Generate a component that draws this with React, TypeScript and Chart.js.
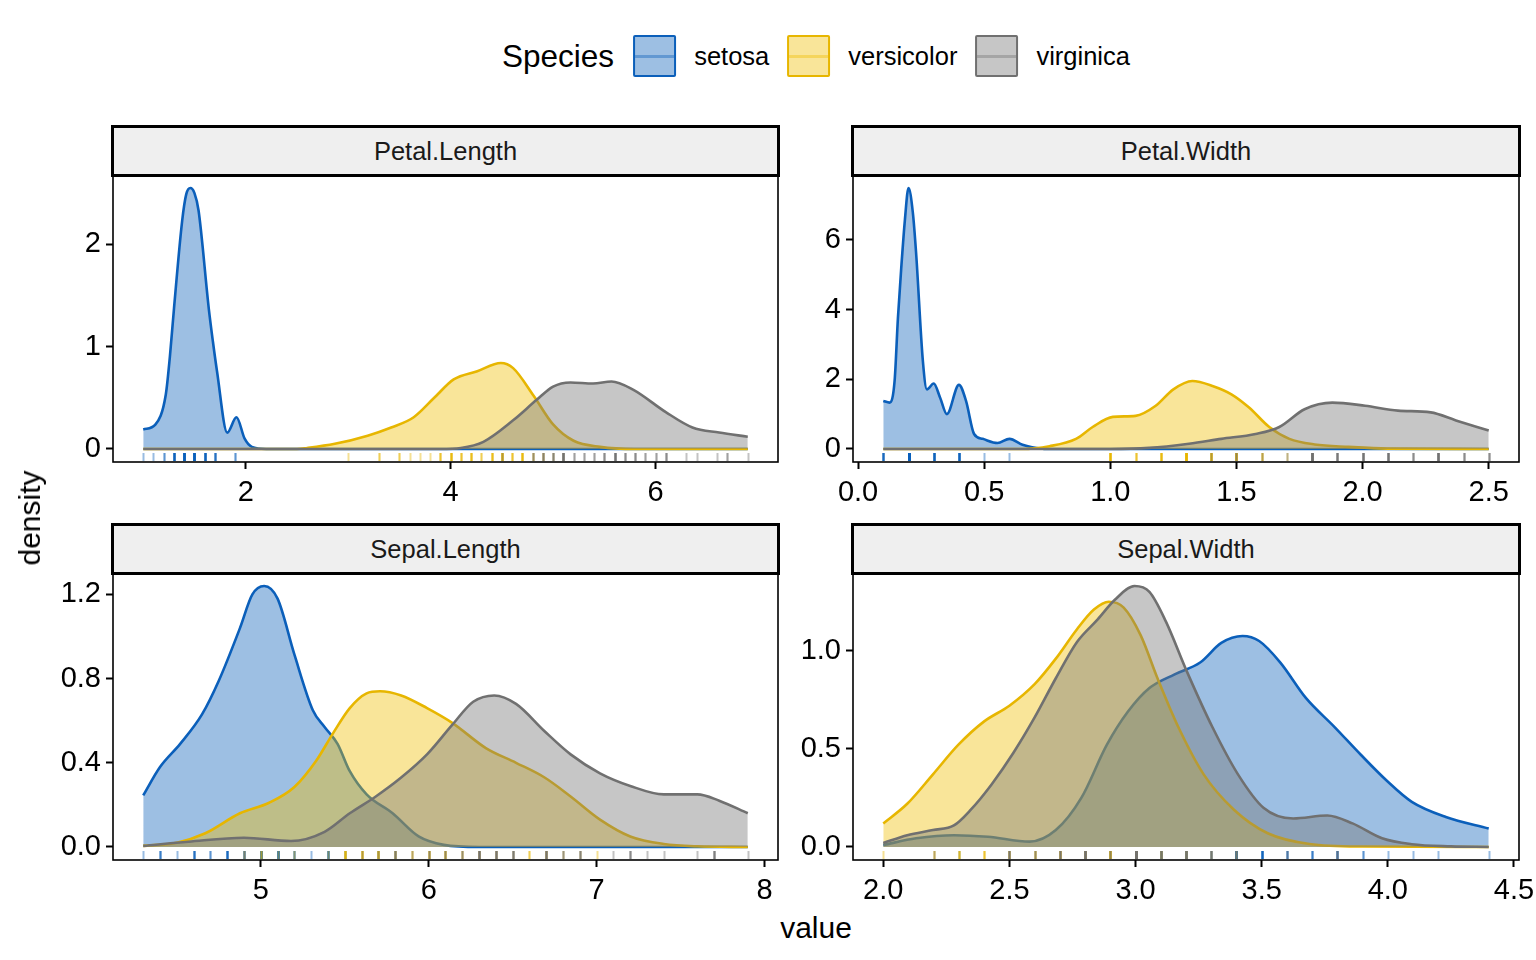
import React, { useEffect, useRef } from "react";
import { Chart, registerables } from "chart.js";

Chart.register(...registerables);

const FONT = '"Liberation Sans", Arial, Helvetica, sans-serif';

// Species and their colours
const species = ["setosa", "versicolor", "virginica"];
const lineColors = ["#0B5FBA", "#E7B600", "#707070"];
const fillColors = ["rgba(11,95,186,0.40)", "rgba(239,190,0,0.40)", "rgba(118,118,118,0.42)"];
const rugColors = ["rgba(11,95,186,0.42)", "rgba(231,182,0,0.42)", "rgba(112,112,112,0.42)"];

// Density curves: [value, density]
const petalLengthSetosa = [[1.0, 0.19], [1.12, 0.24], [1.22, 0.53], [1.26, 0.9], [1.3, 1.37], [1.38, 2.23], [1.42, 2.49], [1.46, 2.55], [1.5, 2.5], [1.54, 2.33], [1.64, 1.37], [1.68, 1.05], [1.72, 0.76], [1.82, 0.16], [1.91, 0.31], [1.99, 0.1], [2.06, 0.02], [2.2, 0], [6.9, 0]];
const petalLengthVersicolor = [[1.0, 0], [2.5, 0], [2.6, 0.01], [2.87, 0.05], [3.19, 0.13], [3.42, 0.21], [3.64, 0.31], [3.84, 0.5], [4.03, 0.68], [4.26, 0.76], [4.49, 0.84], [4.61, 0.79], [4.81, 0.52], [5.0, 0.24], [5.2, 0.08], [5.46, 0.02], [5.8, 0], [6.9, 0]];
const petalLengthVirginica = [[1.0, 0], [3.9, 0], [4.1, 0.01], [4.32, 0.07], [4.61, 0.28], [4.84, 0.48], [5.0, 0.61], [5.17, 0.65], [5.39, 0.64], [5.57, 0.66], [5.78, 0.58], [6.1, 0.36], [6.36, 0.21], [6.62, 0.16], [6.9, 0.12]];

const petalWidthSetosa = [[0.1, 1.38], [0.125, 1.33], [0.145, 1.96], [0.158, 3.75], [0.171, 5.17], [0.186, 6.6], [0.2, 7.49], [0.217, 6.8], [0.23, 5.64], [0.257, 2.52], [0.273, 1.71], [0.3, 1.88], [0.325, 1.48], [0.352, 1.0], [0.4, 1.84], [0.428, 1.38], [0.46, 0.43], [0.494, 0.29], [0.553, 0.17], [0.6, 0.29], [0.652, 0.12], [0.69, 0.05], [0.75, 0], [2.5, 0]];
const petalWidthVersicolor = [[0.1, 0], [0.65, 0], [0.759, 0.08], [0.864, 0.29], [0.93, 0.63], [1.01, 0.92], [1.1, 0.95], [1.18, 1.24], [1.25, 1.71], [1.325, 1.95], [1.405, 1.81], [1.48, 1.57], [1.55, 1.19], [1.63, 0.63], [1.71, 0.29], [1.81, 0.13], [1.945, 0.06], [2.1, 0.01], [2.5, 0]];
const petalWidthVirginica = [[0.1, 0], [1.0, 0], [1.154, 0.03], [1.312, 0.15], [1.44, 0.29], [1.576, 0.43], [1.67, 0.63], [1.77, 1.14], [1.88, 1.33], [2.01, 1.24], [2.14, 1.1], [2.27, 1.05], [2.37, 0.82], [2.5, 0.53]];

const sepalLengthSetosa = [[4.3, 0.245], [4.4, 0.38], [4.52, 0.49], [4.65, 0.63], [4.75, 0.79], [4.876, 1.04], [4.95, 1.2], [5.02, 1.24], [5.1, 1.18], [5.2, 0.915], [5.31, 0.65], [5.38, 0.57], [5.457, 0.49], [5.53, 0.36], [5.63, 0.25], [5.785, 0.16], [5.94, 0.05], [6.09, 0.01], [6.3, 0], [7.9, 0]];
const sepalLengthVersicolor = [[4.3, 0.005], [4.5, 0.02], [4.67, 0.065], [4.876, 0.16], [5.05, 0.21], [5.2, 0.285], [5.33, 0.41], [5.43, 0.54], [5.53, 0.66], [5.63, 0.73], [5.71, 0.74], [5.836, 0.72], [5.99, 0.66], [6.14, 0.59], [6.34, 0.47], [6.52, 0.4], [6.69, 0.33], [6.845, 0.24], [7.02, 0.13], [7.2, 0.05], [7.4, 0.014], [7.6, 0.003], [7.9, 0]];
const sepalLengthVirginica = [[4.3, 0.005], [4.57, 0.025], [4.9, 0.044], [5.18, 0.028], [5.38, 0.072], [5.53, 0.16], [5.685, 0.24], [5.836, 0.33], [5.99, 0.44], [6.14, 0.58], [6.265, 0.69], [6.39, 0.72], [6.52, 0.68], [6.69, 0.55], [6.845, 0.44], [7.02, 0.35], [7.2, 0.29], [7.4, 0.25], [7.6, 0.25], [7.73, 0.22], [7.9, 0.16]];

const sepalWidthSetosa = [[2.0, 0.01], [2.13, 0.044], [2.28, 0.06], [2.415, 0.052], [2.58, 0.027], [2.684, 0.086], [2.785, 0.25], [2.886, 0.52], [2.97, 0.69], [3.055, 0.81], [3.155, 0.88], [3.256, 0.94], [3.34, 1.04], [3.424, 1.075], [3.49, 1.05], [3.574, 0.94], [3.675, 0.76], [3.79, 0.61], [3.893, 0.47], [3.994, 0.34], [4.095, 0.23], [4.23, 0.153], [4.4, 0.094]];
const sepalWidthVersicolor = [[2.0, 0.12], [2.095, 0.22], [2.197, 0.37], [2.297, 0.52], [2.4, 0.64], [2.5, 0.72], [2.6, 0.83], [2.684, 0.96], [2.768, 1.11], [2.835, 1.21], [2.894, 1.25], [2.953, 1.22], [3.02, 1.08], [3.087, 0.86], [3.17, 0.61], [3.27, 0.37], [3.39, 0.19], [3.524, 0.07], [3.69, 0.015], [3.9, 0.002], [4.4, 0]];
const sepalWidthVirginica = [[2.0, 0.02], [2.095, 0.06], [2.197, 0.086], [2.28, 0.11], [2.347, 0.19], [2.43, 0.32], [2.516, 0.48], [2.6, 0.66], [2.684, 0.86], [2.768, 1.045], [2.85, 1.16], [2.918, 1.26], [2.996, 1.33], [3.055, 1.3], [3.12, 1.15], [3.205, 0.89], [3.305, 0.61], [3.406, 0.37], [3.507, 0.2], [3.625, 0.145], [3.76, 0.16], [3.86, 0.12], [3.977, 0.044], [4.095, 0.014], [4.25, 0.003], [4.4, 0]];

// Observations for the rugs: [value, count]
const petalLengthRugSetosa = [[1.0, 1], [1.1, 1], [1.2, 2], [1.3, 7], [1.4, 13], [1.5, 13], [1.6, 7], [1.7, 4], [1.9, 2]];
const petalLengthRugVersicolor = [[3.0, 1], [3.3, 2], [3.5, 2], [3.6, 1], [3.7, 1], [3.8, 1], [3.9, 3], [4.0, 5], [4.1, 3], [4.2, 4], [4.3, 2], [4.4, 4], [4.5, 7], [4.6, 3], [4.7, 5], [4.8, 2], [4.9, 2], [5.0, 1], [5.1, 1]];
const petalLengthRugVirginica = [[4.5, 1], [4.8, 2], [4.9, 3], [5.0, 3], [5.1, 7], [5.2, 2], [5.3, 2], [5.4, 2], [5.5, 3], [5.6, 6], [5.7, 3], [5.8, 3], [5.9, 2], [6.0, 2], [6.1, 3], [6.3, 1], [6.4, 1], [6.6, 1], [6.7, 2], [6.9, 1]];

const petalWidthRugSetosa = [[0.1, 5], [0.2, 29], [0.3, 7], [0.4, 7], [0.5, 1], [0.6, 1]];
const petalWidthRugVersicolor = [[1.0, 7], [1.1, 3], [1.2, 5], [1.3, 13], [1.4, 7], [1.5, 10], [1.6, 3], [1.7, 1], [1.8, 1]];
const petalWidthRugVirginica = [[1.4, 1], [1.5, 2], [1.6, 1], [1.7, 1], [1.8, 11], [1.9, 5], [2.0, 6], [2.1, 6], [2.2, 3], [2.3, 8], [2.4, 3], [2.5, 3]];

const sepalLengthRugSetosa = [[4.3, 1], [4.4, 3], [4.5, 1], [4.6, 4], [4.7, 2], [4.8, 5], [4.9, 4], [5.0, 8], [5.1, 8], [5.2, 3], [5.3, 1], [5.4, 5], [5.5, 2], [5.7, 2], [5.8, 1]];
const sepalLengthRugVersicolor = [[4.9, 1], [5.0, 2], [5.1, 1], [5.2, 1], [5.4, 1], [5.5, 5], [5.6, 5], [5.7, 5], [5.8, 3], [5.9, 2], [6.0, 4], [6.1, 4], [6.2, 2], [6.3, 3], [6.4, 2], [6.5, 1], [6.6, 2], [6.7, 3], [6.8, 1], [6.9, 1], [7.0, 1]];
const sepalLengthRugVirginica = [[4.9, 1], [5.6, 1], [5.7, 1], [5.8, 3], [5.9, 1], [6.0, 2], [6.1, 2], [6.2, 2], [6.3, 6], [6.4, 5], [6.5, 4], [6.7, 5], [6.8, 2], [6.9, 3], [7.1, 1], [7.2, 3], [7.3, 1], [7.4, 1], [7.6, 1], [7.7, 4], [7.9, 1]];

const sepalWidthRugSetosa = [[2.3, 1], [2.9, 1], [3.0, 6], [3.1, 4], [3.2, 5], [3.3, 2], [3.4, 9], [3.5, 6], [3.6, 3], [3.7, 3], [3.8, 4], [3.9, 2], [4.0, 1], [4.1, 1], [4.2, 1], [4.4, 1]];
const sepalWidthRugVersicolor = [[2.0, 1], [2.2, 2], [2.3, 3], [2.4, 3], [2.5, 4], [2.6, 3], [2.7, 5], [2.8, 6], [2.9, 7], [3.0, 8], [3.1, 3], [3.2, 3], [3.3, 1], [3.4, 1]];
const sepalWidthRugVirginica = [[2.2, 1], [2.5, 4], [2.6, 2], [2.7, 4], [2.8, 8], [2.9, 2], [3.0, 12], [3.1, 4], [3.2, 5], [3.3, 3], [3.4, 2], [3.6, 1], [3.8, 2]];

// Axis ticks
const petalLengthXTicks = [2, 4, 6];
const petalLengthXLabels = ["2", "4", "6"];
const petalLengthYTicks = [0, 1, 2];
const petalLengthYLabels = ["0", "1", "2"];
const petalWidthXTicks = [0, 0.5, 1, 1.5, 2, 2.5];
const petalWidthXLabels = ["0.0", "0.5", "1.0", "1.5", "2.0", "2.5"];
const petalWidthYTicks = [0, 2, 4, 6];
const petalWidthYLabels = ["0", "2", "4", "6"];
const sepalLengthXTicks = [5, 6, 7, 8];
const sepalLengthXLabels = ["5", "6", "7", "8"];
const sepalLengthYTicks = [0, 0.4, 0.8, 1.2];
const sepalLengthYLabels = ["0.0", "0.4", "0.8", "1.2"];
const sepalWidthXTicks = [2, 2.5, 3, 3.5, 4, 4.5];
const sepalWidthXLabels = ["2.0", "2.5", "3.0", "3.5", "4.0", "4.5"];
const sepalWidthYTicks = [0, 0.5, 1];
const sepalWidthYLabels = ["0.0", "0.5", "1.0"];

type Pair = number[][];

interface PanelDef {
  title: string;
  curves: Pair[];
  rugs: Pair[];
  xTicks: number[];
  xLabels: string[];
  yTicks: number[];
  yLabels: string[];
  left: number; // plot area left
  top: number; // plot area top
  right: number;
  bottom: number;
}

const panels: PanelDef[] = [
  {
    title: "Petal.Length",
    curves: [petalLengthSetosa, petalLengthVersicolor, petalLengthVirginica],
    rugs: [petalLengthRugSetosa, petalLengthRugVersicolor, petalLengthRugVirginica],
    xTicks: petalLengthXTicks, xLabels: petalLengthXLabels,
    yTicks: petalLengthYTicks, yLabels: petalLengthYLabels,
    left: 113, top: 175, right: 778, bottom: 462,
  },
  {
    title: "Petal.Width",
    curves: [petalWidthSetosa, petalWidthVersicolor, petalWidthVirginica],
    rugs: [petalWidthRugSetosa, petalWidthRugVersicolor, petalWidthRugVirginica],
    xTicks: petalWidthXTicks, xLabels: petalWidthXLabels,
    yTicks: petalWidthYTicks, yLabels: petalWidthYLabels,
    left: 853, top: 175, right: 1519, bottom: 462,
  },
  {
    title: "Sepal.Length",
    curves: [sepalLengthSetosa, sepalLengthVersicolor, sepalLengthVirginica],
    rugs: [sepalLengthRugSetosa, sepalLengthRugVersicolor, sepalLengthRugVirginica],
    xTicks: sepalLengthXTicks, xLabels: sepalLengthXLabels,
    yTicks: sepalLengthYTicks, yLabels: sepalLengthYLabels,
    left: 113, top: 573, right: 778, bottom: 860,
  },
  {
    title: "Sepal.Width",
    curves: [sepalWidthSetosa, sepalWidthVersicolor, sepalWidthVirginica],
    rugs: [sepalWidthRugSetosa, sepalWidthRugVersicolor, sepalWidthRugVirginica],
    xTicks: sepalWidthXTicks, xLabels: sepalWidthXLabels,
    yTicks: sepalWidthYTicks, yLabels: sepalWidthYLabels,
    left: 853, top: 573, right: 1519, bottom: 860,
  },
];

const PAGE_W = 1536;
const AXIS_H = 50;
const PAD_TOP = 5;

function canvasBox(p: PanelDef) {
  const cLeft = p.left < 800 ? 0 : 800;
  const cRight = p.left < 800 ? 800 : PAGE_W;
  return {
    left: cLeft,
    top: p.top - PAD_TOP,
    width: cRight - cLeft,
    height: p.bottom - p.top + PAD_TOP + AXIS_H,
    yAxisW: p.left - cLeft,
    padRight: cRight - p.right,
  };
}

const rugPlugin = {
  id: "rugAndFrame",
  afterDatasetsDraw(chart: any, _args: any, opts: any) {
    const { ctx, chartArea } = chart;
    const xs = chart.scales.x;
    ctx.save();
    ctx.lineWidth = 2;
    (opts.rugs as Pair[]).forEach((rug, si) => {
      ctx.strokeStyle = rugColors[si];
      rug.forEach(([v, n]) => {
        const px = Math.round(xs.getPixelForValue(v)) + 0.5;
        for (let k = 0; k < n; k++) {
          ctx.beginPath();
          ctx.moveTo(px, chartArea.bottom - 1);
          ctx.lineTo(px, chartArea.bottom - 9);
          ctx.stroke();
        }
      });
    });
    ctx.strokeStyle = "#000";
    ctx.lineWidth = 1.6;
    ctx.strokeRect(chartArea.left, chartArea.top, chartArea.right - chartArea.left, chartArea.bottom - chartArea.top);
    ctx.restore();
  },
};

function Panel({ p }: { p: PanelDef }) {
  const ref = useRef<HTMLCanvasElement | null>(null);
  const box = canvasBox(p);

  useEffect(() => {
    if (!ref.current) return;
    const allObs = p.rugs.flatMap((r) => r.map(([v]) => v));
    const dMin = Math.min(...allObs);
    const dMax = Math.max(...allObs);
    const xPad = (dMax - dMin) * 0.05;
    const peak = Math.max(...p.curves.flatMap((c) => c.map(([, d]) => d)));

    const datasets = p.curves.map((c, i) => ({
      label: species[i],
      data: c.map(([x, y]) => ({ x, y })),
      borderColor: lineColors[i],
      backgroundColor: fillColors[i],
      borderWidth: 2.6,
      pointRadius: 0,
      fill: "origin",
      cubicInterpolationMode: "monotone",
      order: 3 - i,
    }));

    const tickFont = { family: FONT, size: 29 };
    const chart = new Chart(ref.current, {
      type: "line",
      data: { datasets: datasets as any },
      plugins: [rugPlugin as any],
      options: {
        animation: false,
        responsive: false,
        maintainAspectRatio: false,
        layout: { padding: { top: PAD_TOP, left: 0, right: box.padRight, bottom: 0 } },
        plugins: {
          legend: { display: false },
          tooltip: { enabled: false },
          rugAndFrame: { rugs: p.rugs },
        } as any,
        scales: {
          x: {
            type: "linear",
            min: dMin - xPad,
            max: dMax + xPad,
            afterBuildTicks: (s: any) => {
              s.ticks = p.xTicks.map((v) => ({ value: v }));
            },
            afterFit: (s: any) => {
              s.height = AXIS_H;
              s.paddingLeft = 0;
              s.paddingRight = 0;
            },
            ticks: {
              autoSkip: false,
              maxRotation: 0,
              color: "#000",
              font: tickFont,
              padding: 7,
              callback: (_v: any, i: number) => p.xLabels[i],
            },
            grid: { drawOnChartArea: false, drawTicks: true, tickLength: 7, tickWidth: 2, tickColor: "#000", color: "#000" },
            border: { display: false },
          },
          y: {
            type: "linear",
            min: -0.05 * peak,
            max: 1.05 * peak,
            afterBuildTicks: (s: any) => {
              s.ticks = p.yTicks.map((v) => ({ value: v }));
            },
            afterFit: (s: any) => {
              s.width = box.yAxisW;
              s.paddingTop = 0;
              s.paddingBottom = 0;
            },
            ticks: {
              autoSkip: false,
              color: "#000",
              font: tickFont,
              padding: 5,
              callback: (_v: any, i: number) => p.yLabels[i],
            },
            grid: { drawOnChartArea: false, drawTicks: true, tickLength: 7, tickWidth: 2, tickColor: "#000", color: "#000" },
            border: { display: false },
          },
        },
      } as any,
    });
    return () => chart.destroy();
  }, []);

  return (
    <>
      <canvas
        ref={ref}
        width={box.width}
        height={box.height}
        style={{ position: "absolute", left: box.left, top: box.top, width: box.width, height: box.height }}
      />
      <div
        style={{
          position: "absolute",
          left: p.left - 2,
          top: p.top - 50,
          width: p.right - p.left + 4,
          height: 52,
          boxSizing: "border-box",
          border: "3px solid #000",
          background: "#EFEFEF",
          display: "flex",
          alignItems: "center",
          justifyContent: "center",
          fontFamily: FONT,
          fontSize: 25.5,
          color: "#1a1a1a",
        }}
      >
        {p.title}
      </div>
    </>
  );
}

function LegendKey({ i }: { i: number }) {
  return (
    <div
      style={{
        position: "relative",
        width: 43,
        height: 42,
        boxSizing: "border-box",
        border: `2.5px solid ${lineColors[i]}`,
        background: fillColors[i],
        borderRadius: 2,
      }}
    >
      <div
        style={{
          position: "absolute",
          left: 0,
          right: 0,
          top: "50%",
          height: 3,
          marginTop: -1.5,
          background: fillColors[i],
        }}
      />
    </div>
  );
}

export default function App() {
  return (
    <div
      style={{
        position: "fixed",
        left: 0,
        top: 0,
        width: PAGE_W,
        height: 960,
        overflow: "hidden",
        background: "#fff",
        fontFamily: FONT,
      }}
    >
      <div
        style={{
          position: "absolute",
          left: 816,
          top: 35,
          transform: "translateX(-50%)",
          display: "flex",
          alignItems: "center",
          height: 42,
          whiteSpace: "nowrap",
        }}
      >
        <span style={{ fontSize: 31.5, marginRight: 19, color: "#000" }}>Species</span>
        {species.map((s, i) => (
          <React.Fragment key={s}>
            <LegendKey i={i} />
            <span style={{ fontSize: 25.5, marginLeft: 18, marginRight: i < 2 ? 18 : 0, color: "#000" }}>{s}</span>
          </React.Fragment>
        ))}
      </div>

      {panels.map((p) => (
        <Panel key={p.title} p={p} />
      ))}

      <div
        style={{
          position: "absolute",
          left: 30,
          top: 518,
          transform: "translate(-50%, -50%) rotate(-90deg)",
          fontSize: 30,
          whiteSpace: "nowrap",
          color: "#000",
        }}
      >
        density
      </div>
      <div
        style={{
          position: "absolute",
          left: 816,
          top: 928,
          transform: "translate(-50%, -50%)",
          fontSize: 30,
          whiteSpace: "nowrap",
          color: "#000",
        }}
      >
        value
      </div>
    </div>
  );
}
